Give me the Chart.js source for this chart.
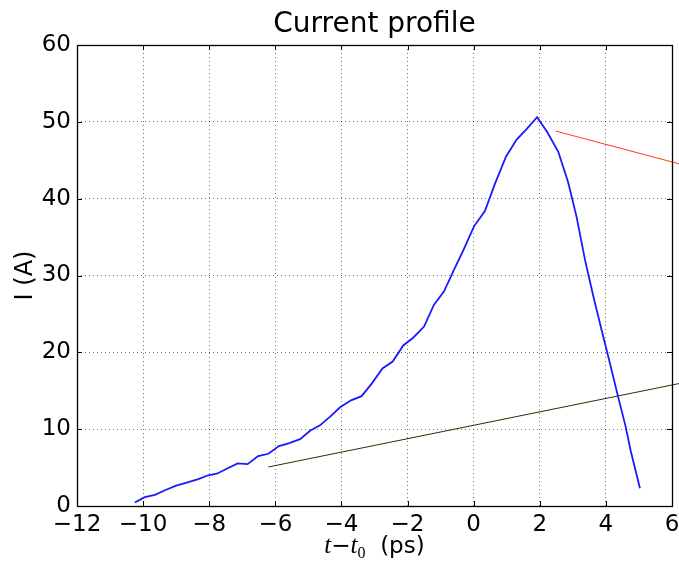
<!DOCTYPE html>
<html>
<head>
<meta charset="utf-8">
<title>Current profile</title>
<script src="https://cdn.jsdelivr.net/npm/chart.js@4.4.1/dist/chart.umd.min.js"></script>
<style>
    html, body { margin: 0; padding: 0; background: #ffffff; }
    #wrap { width: 679px; height: 562px; }
</style>
</head>
<body>
<div id="wrap"><canvas id="chart" width="679" height="562"></canvas></div>
<script>
// measured profile (t - t0 in ps, current in A)
var blueX = [-10.25, -9.95, -9.64, -9.34, -9.0, -8.68, -8.33, -8.03, -7.77, -7.47, -7.14, -6.84, -6.52, -6.21,
    -5.89, -5.6, -5.25, -4.95, -4.65, -4.35, -4.04, -3.71, -3.39, -3.09, -2.76, -2.45, -2.13, -1.83, -1.5, -1.2,
    -0.9, -0.6, -0.3, 0.01, 0.34, 0.64, 0.98, 1.3, 1.6, 1.92, 2.22, 2.56, 2.86, 3.11, 3.37, 3.62, 3.87, 4.12,
    4.37, 4.6, 4.75, 5.03];
var blueY = [0.45, 1.15, 1.45, 2.05, 2.65, 3.05, 3.5, 4.0, 4.2, 4.85, 5.55, 5.45, 6.5, 6.8,
    7.8, 8.15, 8.7, 9.8, 10.5, 11.6, 12.85, 13.75, 14.3, 15.9, 17.9, 18.8, 20.9, 21.9, 23.35, 26.2,
    27.9, 30.7, 33.4, 36.4, 38.4, 41.9, 45.5, 47.7, 49.05, 50.6, 48.7, 46.1, 42.1, 37.7, 32.0, 27.3, 22.9, 18.6,
    14.2, 10.3, 7.2, 2.3];

// fitted lines (they run past the right spine)
var redX = [2.48, 6.22];
var redY = [48.8, 44.53];
var oliveX = [-6.21, 6.22];
var oliveY = [5.08, 15.94];

var xTicks = [-12, -10, -8, -6, -4, -2, 0, 2, 4, 6];
var yTicks = [0, 10, 20, 30, 40, 50, 60];

function toPoints(xs, ys) {
    return xs.map(function(x, i) { return { x: x, y: ys[i] }; });
}

function minusSign(v) {
    return String(v).replace('-', '\u2212');
}

var FONT = '"DejaVu Sans", sans-serif';

// frame, inward ticks, title and axis titles, drawn like the old matplotlib look
var framePlugin = {
    id: 'frame',
    afterDraw: function(chart) {
        var ctx = chart.ctx;
        var a = chart.chartArea;
        var xs = chart.scales.x;
        var ys = chart.scales.y;
        var tick = 5;

        ctx.save();
        ctx.strokeStyle = '#000000';
        ctx.lineWidth = 1;
        ctx.setLineDash([]);

        ctx.beginPath();
        xTicks.forEach(function(v) {
            var px = Math.round(xs.getPixelForValue(v)) + 0.5;
            ctx.moveTo(px, a.bottom); ctx.lineTo(px, a.bottom - tick);
            ctx.moveTo(px, a.top); ctx.lineTo(px, a.top + tick);
        });
        yTicks.forEach(function(v) {
            var py = Math.round(ys.getPixelForValue(v)) + 0.5;
            ctx.moveTo(a.left, py); ctx.lineTo(a.left + tick, py);
            ctx.moveTo(a.right, py); ctx.lineTo(a.right - tick, py);
        });
        ctx.stroke();

        ctx.lineWidth = 1.3;
        ctx.strokeRect(Math.round(a.left) + 0.5, Math.round(a.top) + 0.5,
            Math.round(a.right - a.left), Math.round(a.bottom - a.top));

        // title
        var cx = (a.left + a.right) / 2;
        ctx.fillStyle = '#000000';
        ctx.textAlign = 'center';
        ctx.textBaseline = 'alphabetic';
        ctx.font = '28px ' + FONT;
        ctx.fillText('Current profile', cx, 32);

        // y title
        ctx.save();
        ctx.translate(24, (a.top + a.bottom) / 2);
        ctx.rotate(-Math.PI / 2);
        ctx.font = '24px ' + FONT;
        ctx.textBaseline = 'alphabetic';
        ctx.fillText('I (A)', 0, 8);
        ctx.restore();

        // x title: t - t0 (ps)
        var parts = [
            { text: 't', font: 'italic 25px "Liberation Serif", serif', dy: 0 },
            { text: '\u2212', font: '23px ' + FONT, dy: 0 },
            { text: 't', font: 'italic 25px "Liberation Serif", serif', dy: 0 },
            { text: '0', font: '16px "Liberation Serif", serif', dy: 5 },
            { text: '  (ps)', font: '23px ' + FONT, dy: 0 }
        ];
        var total = 0;
        parts.forEach(function(p) {
            ctx.font = p.font;
            p.w = ctx.measureText(p.text).width;
            total += p.w;
        });
        var x = cx - total / 2;
        ctx.textAlign = 'left';
        parts.forEach(function(p) {
            ctx.font = p.font;
            ctx.fillText(p.text, x, 553 + p.dy);
            x += p.w;
        });
        ctx.restore();
    }
};

var ctx = document.getElementById('chart').getContext('2d');

new Chart(ctx, {
    type: 'scatter',
    data: {
        datasets: [
            {
                label: 'profile',
                data: toPoints(blueX, blueY),
                showLine: true,
                borderColor: '#1a1aff',
                borderWidth: 1.8,
                pointRadius: 0,
                tension: 0
            },
            {
                label: 'fit red',
                data: toPoints(redX, redY),
                showLine: true,
                borderColor: '#ff3a1a',
                borderWidth: 1,
                pointRadius: 0,
                clip: false
            },
            {
                label: 'fit olive',
                data: toPoints(oliveX, oliveY),
                showLine: true,
                borderColor: '#2e2e00',
                borderWidth: 1,
                pointRadius: 0,
                clip: false
            }
        ]
    },
    options: {
        responsive: false,
        animation: false,
        events: [],
        layout: {
            padding: { top: 45, right: 7, bottom: 0, left: 0 }
        },
        plugins: {
            legend: { display: false },
            tooltip: { enabled: false },
            title: { display: false }
        },
        scales: {
            x: {
                type: 'linear',
                min: -12,
                max: 6,
                afterBuildTicks: function(scale) {
                    scale.ticks = xTicks.map(function(v) { return { value: v }; });
                },
                afterFit: function(scale) {
                    scale.height = 56;
                    scale.paddingRight = 0;
                    scale.paddingLeft = 0;
                },
                grid: {
                    color: 'rgba(0, 0, 0, 0.55)',
                    lineWidth: 1,
                    drawTicks: false
                },
                border: { display: false, dash: [1, 3] },
                ticks: {
                    color: '#000000',
                    padding: 5,
                    maxRotation: 0,
                    autoSkip: false,
                    font: { family: FONT, size: 23 },
                    callback: function(value) { return minusSign(value); }
                }
            },
            y: {
                type: 'linear',
                min: 0,
                max: 60,
                afterBuildTicks: function(scale) {
                    scale.ticks = yTicks.map(function(v) { return { value: v }; });
                },
                afterFit: function(scale) {
                    scale.width = 77;
                },
                grid: {
                    color: 'rgba(0, 0, 0, 0.55)',
                    lineWidth: 1,
                    drawTicks: false
                },
                border: { display: false, dash: [1, 3] },
                ticks: {
                    color: '#000000',
                    padding: 6,
                    autoSkip: false,
                    font: { family: FONT, size: 23 },
                    callback: function(value) { return minusSign(value); }
                }
            }
        }
    },
    plugins: [framePlugin]
});
</script>
</body>
</html>
